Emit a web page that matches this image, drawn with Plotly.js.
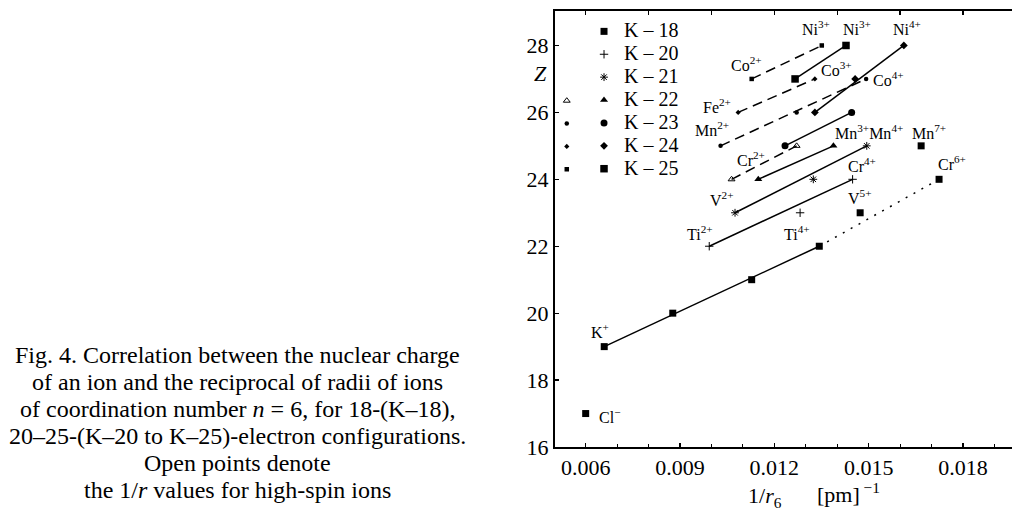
<!DOCTYPE html>
<html>
<head>
<meta charset="utf-8">
<script src="https://cdn.plot.ly/plotly-3.0.1.min.js"></script>
<style>html,body{margin:0;padding:0;background:#fff;}#chart{width:1012px;height:513px;}</style>
</head>
<body>
<div id="chart"></div>
<script>
// ---- data: 1/r6 [pm^-1] and nuclear charge Z ----
// K-18 : Cl-, K+, Ca2+, Sc3+, Ti4+, V5+, Cr6+, Mn7+
const k18X = [0.00600, 0.00659, 0.00877, 0.01128, 0.01343, 0.01473, 0.01724, 0.01667];
const k18Z = [17, 19, 20, 21, 22, 23, 24, 25];
// K-20 : Ti2+, V3+, Cr4+
const k20X = [0.00993, 0.01282, 0.01449];
const k20Z = [22, 23, 24];
// K-21 : V2+, Cr3+, Mn4+
const k21X = [0.01075, 0.01324, 0.01494];
const k21Z = [23, 24, 25];
// K-22 low spin / high spin : Cr2+, Mn3+
const k22X = [0.01149, 0.01388];
const k22Z = [24, 25];
const k22hsX = [0.01064, 0.01271];
const k22hsZ = [24, 25];
// K-23 low spin : Mn2+, Fe3+ ; high spin : Mn2+, Fe3+, Co4+
const k23X = [0.01234, 0.01446];
const k23Z = [25, 26];
const k23hsX = [0.01029, 0.01271, 0.01492];
const k23hsZ = [25, 26, 27];
// K-24 low spin : Fe2+, Co3+, Ni4+ ; high spin : Fe2+, Co3+
const k24X = [0.01329, 0.01457, 0.01612];
const k24Z = [26, 27, 28];
const k24hsX = [0.01085, 0.01329];
const k24hsZ = [26, 27];
// K-25 low spin : Co2+, Ni3+ ; high spin : Co2+, Ni3+
const k25X = [0.01266, 0.01428];
const k25Z = [27, 28];
const k25hsX = [0.01128, 0.01351];
const k25hsZ = [27, 28];

const seriesNames = ['K – 18', 'K – 20', 'K – 21', 'K – 22', 'K – 23', 'K – 24', 'K – 25'];
const xTickVals = [0.006, 0.009, 0.012, 0.015, 0.018];
const xTickText = ['0.006', '0.009', '0.012', '0.015', '0.018'];
const yTickVals = [16, 18, 20, 22, 24, 26, 28];

// ion labels (text, position in data units)
const labelText = ['Ni<sup>3+</sup>', 'Ni<sup>3+</sup>', 'Ni<sup>4+</sup>', 'Co<sup>2+</sup>', 'Co<sup>3+</sup>', 'Co<sup>4+</sup>',
  'Fe<sup>2+</sup>', 'Mn<sup>2+</sup>', 'Mn<sup>3+</sup>Mn<sup>4+</sup>', 'Mn<sup>7+</sup>', 'Cr<sup>2+</sup>', 'Cr<sup>4+</sup>',
  'Cr<sup>6+</sup>', 'V<sup>2+</sup>', 'V<sup>5+</sup>', 'Ti<sup>2+</sup>', 'Ti<sup>4+</sup>', 'K<sup>+</sup>'];
const labelX = [0.01333, 0.01463, 0.01622, 0.01110, 0.01399, 0.01562, 0.01018, 0.01002, 0.01501, 0.01692, 0.01126, 0.01479,
  0.01765, 0.01033, 0.01472, 0.00964, 0.01272, 0.00646];
const labelY = [28.51, 28.51, 28.51, 27.44, 27.29, 27.0, 26.19, 25.51, 25.42, 25.42, 24.62, 24.44, 24.5, 23.40, 23.46, 22.39, 22.39, 19.47];

const captionLines = [
  'Fig. 4. Correlation between the nuclear charge',
  'of an ion and the reciprocal of radii of ions',
  'of coordination number <i>n</i> = 6, for 18-(K–18),',
  '20–25-(K–20 to K–25)-electron configurations.',
  'Open points denote',
  'the 1/<i>r</i> values for high-spin ions'
];

const FONT = 'Liberation Serif, Times New Roman, serif';
const BLK = '#000';

function seg(xs, zs, i0, i1, dash, axis) {
  return {x: [xs[i0], xs[i1]], y: [zs[i0], zs[i1]], mode: 'lines', xaxis: axis || 'x', showlegend: false,
    line: {color: BLK, width: 1.5, dash: dash}, hoverinfo: 'skip'};
}
function pts(xs, zs, name, symbol, size, legendId, lw) {
  return {x: xs, y: zs, mode: 'markers', name: name, legend: legendId,
    marker: {symbol: symbol, size: size, color: BLK, line: {color: BLK, width: lw || 0}}};
}
const L = n => '<span style="font-size:20px">' + n + '</span>';

const traces = [
  seg(k18X, k18Z, 1, 4, 'solid'),
  seg(k18X, k18Z, 4, 6, '2px,7px', 'x2'),
  seg(k20X, k20Z, 0, 2, 'solid'),
  seg(k21X, k21Z, 0, 2, 'solid'),
  seg(k22X, k22Z, 0, 1, 'solid'),
  seg(k22hsX, k22hsZ, 0, 1, '10px,6px'),
  seg(k23X, k23Z, 0, 1, 'solid'),
  seg(k23hsX, k23hsZ, 0, 2, '10px,6px'),
  seg(k24X, k24Z, 0, 2, 'solid'),
  seg(k24hsX, k24hsZ, 0, 1, '10px,6px'),
  seg(k25X, k25Z, 0, 1, 'solid'),
  seg(k25hsX, k25hsZ, 0, 1, '10px,6px'),
  pts(k18X, k18Z, L(seriesNames[0]), 'square', 7, 'legend'),
  pts(k20X, k20Z, L(seriesNames[1]), 'cross-thin-open', 6, 'legend', 1),
  pts(k21X, k21Z, L(seriesNames[2]), 'asterisk-open', 6.5, 'legend', 1),
  pts(k22X, k22Z, L(seriesNames[3]), 'triangle-up', 7, 'legend'),
  pts(k23X, k23Z, L(seriesNames[4]), 'circle', 7, 'legend'),
  pts(k24X, k24Z, L(seriesNames[5]), 'diamond', 6, 'legend'),
  pts(k25X, k25Z, L(seriesNames[6]), 'square', 7.5, 'legend'),
  pts(k22hsX, k22hsZ, ' ', 'triangle-up-open', 6, 'legend2', 1),
  pts(k23hsX, k23hsZ, ' ', 'circle', 4.5, 'legend2'),
  pts(k24hsX, k24hsZ, ' ', 'diamond', 4, 'legend2'),
  pts(k25hsX, k25hsZ, ' ', 'square', 4.5, 'legend2')
];

const X0 = 0.005024, X1 = 0.01956;
const annotations = labelText.map((t, i) => ({
  x: labelX[i], y: labelY[i], xref: 'x', yref: 'y', text: t, showarrow: false,
  xanchor: 'center', yanchor: 'middle', font: {family: FONT, size: 16, color: BLK}
}));
annotations.push({x: 0.00635, y: 16.94, xref: 'x', yref: 'y', text: 'Cl<sup>−</sup>', showarrow: false,
  xanchor: 'left', yanchor: 'middle', font: {family: FONT, size: 16, color: BLK}});
annotations.push({x: -0.0328, y: 0.857, xref: 'paper', yref: 'paper', text: '<i>Z</i>', showarrow: false,
  xanchor: 'center', yanchor: 'middle', font: {family: FONT, size: 22, color: BLK}});
annotations.push({x: (765 - 555) / 457, y: (447 - 497) / 436, xref: 'paper', yref: 'paper',
  text: '1/<i>r</i><sub>6</sub>', showarrow: false,
  xanchor: 'center', yanchor: 'middle', font: {family: FONT, size: 22, color: BLK}});
annotations.push({x: (848 - 555) / 457, y: (447 - 493) / 436, xref: 'paper', yref: 'paper',
  text: '[pm]<sup> −1</sup>', showarrow: false,
  xanchor: 'center', yanchor: 'middle', font: {family: FONT, size: 22, color: BLK}});
const capY = [355, 382, 409, 436, 463, 490];
captionLines.forEach((t, i) => annotations.push({
  x: (237 - 555) / 457, y: (447 - capY[i]) / 436, xref: 'paper', yref: 'paper', text: t, showarrow: false,
  xanchor: 'center', yanchor: 'middle', font: {family: FONT, size: 24, color: BLK}
}));

const layout = {
  width: 1012, height: 513,
  margin: {l: 555, r: 0, t: 11, b: 66, pad: 0},
  paper_bgcolor: '#fff', plot_bgcolor: '#fff',
  font: {family: FONT, color: BLK},
  showlegend: true,
  xaxis: {range: [X0, X1], tickvals: xTickVals, ticktext: xTickText, ticks: 'inside', ticklen: 4, tickwidth: 1.2,
    tickcolor: BLK, showline: true, linecolor: BLK, linewidth: 2, showgrid: false, zeroline: false,
    tickfont: {family: FONT, size: 22, color: BLK},
    minor: {dtick: 0.001, tick0: 0.006, ticks: 'inside', ticklen: 3, tickcolor: BLK, tickwidth: 1}},
  xaxis2: {range: [X0, X1], overlaying: 'x', side: 'top', anchor: 'y', tick0: 0.006, dtick: 0.002,
    ticks: 'inside', ticklen: 4, tickcolor: BLK, tickwidth: 1.2, showticklabels: false, showline: true,
    linecolor: BLK, linewidth: 2, showgrid: false, zeroline: false},
  yaxis: {range: [16, 29.03], tickvals: yTickVals, ticks: 'inside', ticklen: 4, tickwidth: 1.2, tickcolor: BLK,
    showline: true, linecolor: BLK, linewidth: 2, showgrid: false, zeroline: false,
    tickfont: {family: FONT, size: 22, color: BLK}},
  legend: {x: 0.0635, y: 0.991, xanchor: 'left', yanchor: 'top', bgcolor: 'rgba(0,0,0,0)', borderwidth: 0,
    font: {family: FONT, size: 15.3, color: BLK}, tracegroupgap: 0},
  legend2: {x: -0.018, y: 0.832, xanchor: 'left', yanchor: 'top', bgcolor: 'rgba(0,0,0,0)', borderwidth: 0,
    font: {family: FONT, size: 15.3, color: BLK}, tracegroupgap: 0},
  annotations: annotations
};

Plotly.newPlot('chart', traces, layout, {staticPlot: true, displayModeBar: false});
</script>
</body>
</html>
